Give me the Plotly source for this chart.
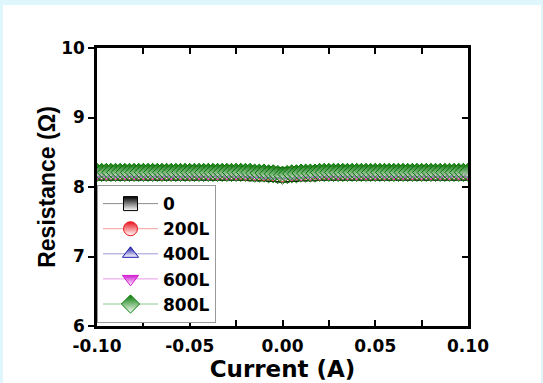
import plotly.graph_objects as go

# ---- data -------------------------------------------------------------
labels = ["0", "200L", "400L", "600L", "800L"]
colors = ["#000000", "#e8141b", "#1a1aa8", "#d21ed2", "#007a00"]
line_colors = ["#8c8c8c", "#f0a0a0", "#9a9ad8", "#e89be8", "#8fc88f"]
symbols = ["square", "circle", "triangle-up", "triangle-down", "diamond"]

# current sweep (A), 41 points for the lower layers, 81 for the top layer
current_41 = [-0.100, -0.095, -0.090, -0.085, -0.080, -0.075, -0.070, -0.065, -0.060, -0.055,
              -0.050, -0.045, -0.040, -0.035, -0.030, -0.025, -0.020, -0.015, -0.010, -0.005,
              0.000, 0.005, 0.010, 0.015, 0.020, 0.025, 0.030, 0.035, 0.040, 0.045,
              0.050, 0.055, 0.060, 0.065, 0.070, 0.075, 0.080, 0.085, 0.090, 0.095, 0.100]
current_81 = [-0.1000, -0.0975, -0.0950, -0.0925, -0.0900, -0.0875, -0.0850, -0.0825, -0.0800, -0.0775,
              -0.0750, -0.0725, -0.0700, -0.0675, -0.0650, -0.0625, -0.0600, -0.0575, -0.0550, -0.0525,
              -0.0500, -0.0475, -0.0450, -0.0425, -0.0400, -0.0375, -0.0350, -0.0325, -0.0300, -0.0275,
              -0.0250, -0.0225, -0.0200, -0.0175, -0.0150, -0.0125, -0.0100, -0.0075, -0.0050, -0.0025,
              0.0000,
              0.0025, 0.0050, 0.0075, 0.0100, 0.0125, 0.0150, 0.0175, 0.0200, 0.0225, 0.0250,
              0.0275, 0.0300, 0.0325, 0.0350, 0.0375, 0.0400, 0.0425, 0.0450, 0.0475, 0.0500,
              0.0525, 0.0550, 0.0575, 0.0600, 0.0625, 0.0650, 0.0675, 0.0700, 0.0725, 0.0750,
              0.0775, 0.0800, 0.0825, 0.0850, 0.0875, 0.0900, 0.0925, 0.0950, 0.0975, 0.1000]

res_0 = [8.20, 8.20, 8.20, 8.20, 8.20, 8.20, 8.20, 8.20, 8.20, 8.20,
         8.20, 8.20, 8.20, 8.20, 8.20, 8.20, 8.20, 8.19, 8.19, 8.18,
         8.17, 8.18, 8.19, 8.19, 8.20, 8.20, 8.20, 8.20, 8.20, 8.20,
         8.20, 8.20, 8.20, 8.20, 8.20, 8.20, 8.20, 8.20, 8.20, 8.20, 8.20]
res_200 = [8.21, 8.21, 8.21, 8.21, 8.21, 8.21, 8.21, 8.21, 8.21, 8.21,
           8.21, 8.21, 8.21, 8.21, 8.21, 8.21, 8.20, 8.20, 8.19, 8.19,
           8.18, 8.19, 8.19, 8.20, 8.20, 8.21, 8.21, 8.21, 8.21, 8.21,
           8.21, 8.21, 8.21, 8.21, 8.21, 8.21, 8.21, 8.21, 8.21, 8.21, 8.21]
res_400 = [8.20, 8.20, 8.20, 8.20, 8.20, 8.20, 8.20, 8.20, 8.20, 8.20,
           8.20, 8.20, 8.20, 8.20, 8.20, 8.20, 8.20, 8.19, 8.19, 8.18,
           8.18, 8.18, 8.19, 8.19, 8.20, 8.20, 8.20, 8.20, 8.20, 8.20,
           8.20, 8.20, 8.20, 8.20, 8.20, 8.20, 8.20, 8.20, 8.20, 8.20, 8.20]
res_600 = [8.21, 8.21, 8.21, 8.21, 8.21, 8.21, 8.21, 8.21, 8.21, 8.21,
           8.21, 8.21, 8.21, 8.21, 8.21, 8.21, 8.21, 8.20, 8.20, 8.20,
           8.20, 8.19, 8.19, 8.20, 8.20, 8.21, 8.21, 8.21, 8.21, 8.21,
           8.21, 8.21, 8.21, 8.21, 8.21, 8.21, 8.21, 8.21, 8.21, 8.21, 8.21]
res_800 = [8.21, 8.21, 8.21, 8.21, 8.21, 8.21, 8.21, 8.21, 8.21, 8.21,
           8.21, 8.21, 8.21, 8.21, 8.21, 8.21, 8.21, 8.21, 8.21, 8.21,
           8.21, 8.21, 8.21, 8.21, 8.21, 8.21, 8.21, 8.21, 8.21, 8.21,
           8.21, 8.21, 8.21, 8.21, 8.20, 8.20, 8.20, 8.19, 8.19, 8.18,
           8.17,
           8.18, 8.19, 8.19, 8.20, 8.20, 8.20, 8.20, 8.21, 8.21, 8.21,
           8.21, 8.21, 8.21, 8.21, 8.21, 8.21, 8.21, 8.21, 8.21, 8.21,
           8.21, 8.21, 8.21, 8.21, 8.21, 8.21, 8.21, 8.21, 8.21, 8.21,
           8.21, 8.21, 8.21, 8.21, 8.21, 8.21, 8.21, 8.21, 8.21, 8.21]

series_x = [current_41, current_41, current_41, current_41, current_81]
series_y = [res_0, res_200, res_400, res_600, res_800]

x_ticks = [-0.10, -0.05, 0.00, 0.05, 0.10]
x_tick_text = ["-0.10", "-0.05", "0.00", "0.05", "0.10"]
y_ticks = [6, 7, 8, 9, 10]

# ---- figure -----------------------------------------------------------
WIDE = "'DejaVu Sans', Verdana, sans-serif"
ARIAL = "Arial, 'Liberation Sans', sans-serif"
fig = go.Figure()

# data traces (half-filled look: fill fades to transparent toward the bottom)
for lab, col, lcol, sym, xs, ys in zip(labels, colors, line_colors, symbols, series_x, series_y):
    fig.add_trace(go.Scatter(
        x=xs, y=ys, name=lab, legendgroup=lab, showlegend=False, mode="lines+markers",
        line=dict(color=lcol, width=1),
        marker=dict(symbol=sym, size=14, color=col,
                    gradient=dict(type="vertical", color="rgba(255,255,255,0)"),
                    line=dict(color=col, width=1)),
    ))

# legend entries (half-filled look on white)
for lab, col, lcol, sym in zip(labels, colors, line_colors, symbols):
    fig.add_trace(go.Scatter(
        x=[None], y=[None], name=lab, legendgroup=lab, mode="lines+markers",
        line=dict(color=lcol, width=1),
        marker=dict(symbol=sym, size=14, color=col,
                    gradient=dict(type="vertical", color="#ffffff"),
                    line=dict(color=col, width=1)),
    ))

tick_font = dict(family=WIDE, size=17, color="black", weight="bold")

fig.update_layout(
    width=543, height=383,
    margin=dict(l=97, r=75, t=48, b=57),
    paper_bgcolor="#dff6fc",
    plot_bgcolor="white",
    showlegend=True,
    legend=dict(x=0, y=0.507, xanchor="left", yanchor="top",
                bgcolor="white", bordercolor="#9a9a9a", borderwidth=1,
                font=dict(family=WIDE, size=17, color="black", weight="bold"),
                itemwidth=55, tracegroupgap=0),
    xaxis=dict(range=[-0.1, 0.1], showline=True, linecolor="black", linewidth=2.5,
               mirror="allticks", ticks="inside", ticklen=6, tickwidth=2, tickcolor="black",
               tickvals=x_ticks, ticktext=x_tick_text, tickfont=tick_font,
               ticklabelstandoff=3,
               minor=dict(dtick=0.025, tick0=-0.1, ticks="inside", ticklen=4, tickwidth=2, tickcolor="black"),
               showgrid=False, zeroline=False,
               title=dict(text="Current (A)",
                          font=dict(family=WIDE, size=23, color="black", weight="bold"),
                          standoff=0)),
    yaxis=dict(range=[6, 10], showline=True, linecolor="black", linewidth=2.5,
               ticks="outside", ticklen=6, tickwidth=2, tickcolor="black",
               tickvals=y_ticks, tickfont=tick_font,
               showgrid=False, zeroline=False,
               title=dict(text="Resistance (Ω)",
                          font=dict(family=ARIAL, size=23, color="black", weight="bold"),
                          standoff=0)),
    yaxis2=dict(range=[6, 10], overlaying="y", side="right", showline=True,
                linecolor="black", linewidth=2.5, ticks="inside", ticklen=6, tickwidth=2,
                tickcolor="black", tickvals=y_ticks, showticklabels=False,
                showgrid=False, zeroline=False),
    shapes=[dict(type="rect", xref="paper", yref="paper", layer="below",
                 x0=-0.2534, x1=1.1968, y0=-0.205, y1=1.1547,
                 fillcolor="white", line=dict(width=0))],
)
# invisible trace so yaxis2 is drawn
fig.add_trace(go.Scatter(x=[-0.1], y=[6], yaxis="y2", mode="markers",
                         marker=dict(opacity=0), showlegend=False, hoverinfo="skip"))

fig.write_html("out.html", config={"displayModeBar": False},
               post_script="document.body.style.margin='0';document.body.style.overflow='hidden';")
